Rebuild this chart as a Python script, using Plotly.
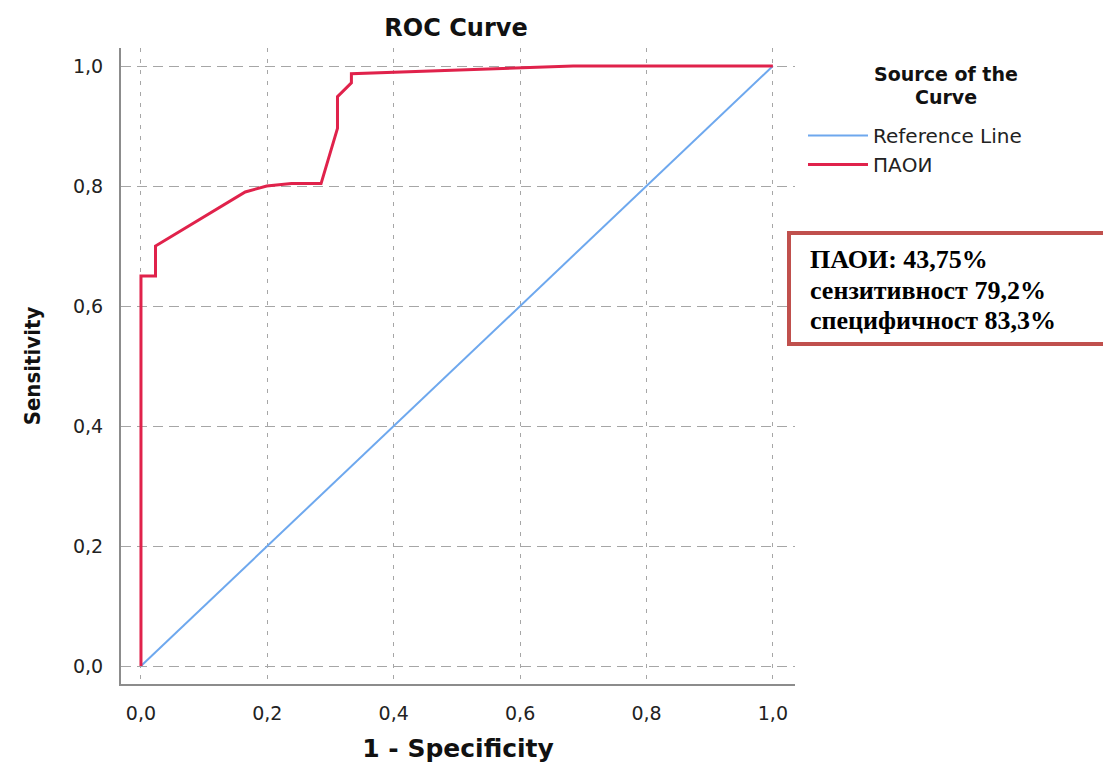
import plotly.graph_objects as go

# ROC coordinates (1 - specificity, sensitivity)
ref_x = [0.0, 1.0]
ref_y = [0.0, 1.0]

paoi_fpr = [0.0, 0.0, 0.023, 0.023, 0.165, 0.199, 0.238, 0.285, 0.311, 0.311, 0.333, 0.333, 0.684, 1.0]
paoi_tpr = [0.0, 0.65, 0.65, 0.70, 0.79, 0.80, 0.804, 0.804, 0.896, 0.949, 0.972, 0.987, 1.0, 1.0]

tick_vals = [0.0, 0.2, 0.4, 0.6, 0.8, 1.0]

summary_lines = [
    "ПАОИ: 43,75%",
    "сензитивност 79,2%",
    "специфичност 83,3%",
]

W, H = 1103, 763
L, R, T, B = 121, 795, 48, 684  # plot-area edges in pixels


def px_x(px):
    return (px - L) / (R - L)


def px_y(py):
    return (B - py) / (B - T)


RED = "#e0224b"
BLUE = "#6ea8ee"
GRID = "#a6a6a6"
SANS = "DejaVu Sans"

fig = go.Figure()
fig.add_trace(go.Scatter(x=ref_x, y=ref_y, mode="lines", name="Reference Line",
                         line=dict(color=BLUE, width=2)))
fig.add_trace(go.Scatter(x=paoi_fpr, y=paoi_tpr, mode="lines", name="ПАОИ",
                         line=dict(color=RED, width=3)))

axis_common = dict(
    tickvals=tick_vals,
    tickformat=".1f",
    showgrid=True,
    gridcolor=GRID,
    gridwidth=1,
    zeroline=False,
    showline=True,
    linecolor="#8c8c8c",
    linewidth=2,
    ticks="",
    automargin=False,
    tickfont=dict(family=SANS, size=19, color="#222"),
)

fig.update_layout(
    width=W, height=H,
    margin=dict(l=L, r=W - R, t=T, b=H - B, pad=0),
    plot_bgcolor="white",
    paper_bgcolor="white",
    separators=",.",
    showlegend=True,
    title=dict(text="<b>ROC Curve</b>", x=px_x(456), xref="paper", xanchor="center",
               y=1 - 28 / H, yref="container", yanchor="middle",
               font=dict(family=SANS, size=24, color="#111")),
    xaxis=dict(range=[-0.0316, 1.035], griddash="4px,7px", ticklabelstandoff=11,
               title=dict(text="<b>1 - Specificity</b>", standoff=22,
                          font=dict(family=SANS, size=25, color="#111")),
               **axis_common),
    yaxis=dict(range=[-0.03, 1.03], griddash="10px,6px", ticklabelstandoff=12,
               title=dict(text="<b>Sensitivity</b>", standoff=26,
                          font=dict(family="DejaVu Sans Condensed, " + SANS,
                                    size=22, color="#111")),
               **axis_common),
    legend=dict(x=px_x(803), xanchor="left", y=px_y(116), yanchor="top",
                bgcolor="rgba(0,0,0,0)", itemwidth=60, tracegroupgap=0,
                font=dict(family=SANS, size=20, color="#222")),
)

# Legend heading
for text, py in (("Source of the", 74), ("Curve", 97)):
    fig.add_annotation(text=f"<b>{text}</b>", xref="paper", yref="paper",
                       x=px_x(946), y=px_y(py), xanchor="center", yanchor="middle",
                       showarrow=False, font=dict(family=SANS, size=19, color="#111"))

# Summary box
fig.add_shape(type="rect", xref="paper", yref="paper",
              x0=px_x(789), x1=px_x(1120), y0=px_y(233), y1=px_y(344),
              line=dict(color="#c0504d", width=4), fillcolor="white", layer="above")
for text, py in zip(summary_lines, (259, 290, 320)):
    fig.add_annotation(text=f"<b>{text}</b>", xref="paper", yref="paper",
                       x=px_x(808), y=px_y(py), xanchor="left", yanchor="middle",
                       showarrow=False,
                       font=dict(family="Liberation Serif", size=26, color="#000"))

fig.write_html("out.html")
